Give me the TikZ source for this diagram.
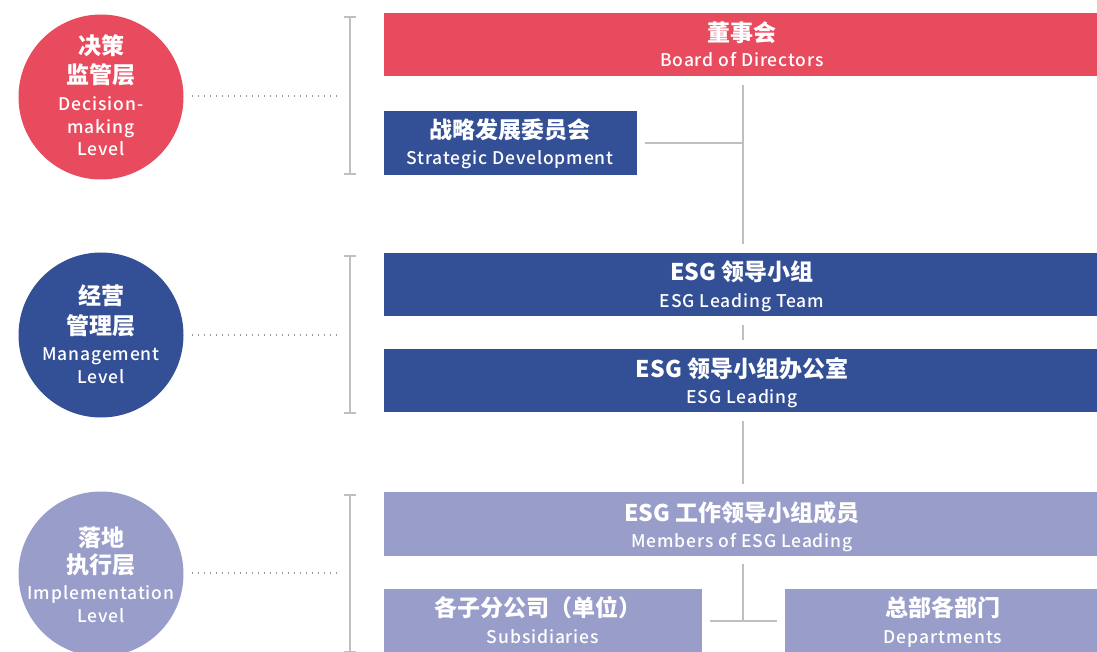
\documentclass[tikz,border=0pt]{standalone}
\usepackage{fontspec}
\setmainfont{Noto Sans CJK SC}
\newfontfamily\enfont{Noto Sans CJK SC Medium}[LetterSpace=5]
\usetikzlibrary{calc}
\definecolor{cred}{HTML}{E84B5E}
\definecolor{cblue}{HTML}{334F95}
\definecolor{clav}{HTML}{999DC9}
\definecolor{cline}{HTML}{BFBFBF}
\definecolor{cdot}{HTML}{999999}
\begin{document}
\begin{tikzpicture}[x=1pt,y=-1pt,
  box/.style={draw=none,inner sep=0pt,outer sep=0pt,anchor=north west},
  lvl/.style={circle,draw=none,inner sep=0pt,minimum size=165pt},
  cn/.style={anchor=base,text=white,inner sep=0pt,font=\fontsize{23}{23}\selectfont\bfseries},
  en/.style={anchor=base,text=white,inner sep=0pt,font=\enfont\fontsize{17.5}{17.5}\selectfont},
  conn/.style={draw=cline,line width=2pt},
  dots/.style={draw=cdot,line width=1.3pt,dash pattern=on 1.3pt off 4.7pt},
  brk/.style={draw=cline,line width=2.2pt}]
\useasboundingbox (0,0) rectangle (1097,652);

% level circles
\node[lvl,fill=cred]  (c1) at (101,97)  {};
\node[lvl,fill=cblue] (c2) at (101,335) {};
\node[lvl,fill=clav]  (c3) at (101,574) {};

\node[cn] (c1a) at (101,55)  {决策};
\node[cn] (c1b) at (101,84)  {监管层};
\node[en] (c1c) at (101,111) {Decision-};
\node[en] (c1d) at (101,134) {making};
\node[en] (c1e) at (101,156) {Level};

\node[cn] (c2a) at (101,305) {经营};
\node[cn] (c2b) at (101,334) {管理层};
\node[en] (c2c) at (101,360) {Management};
\node[en] (c2d) at (101,383) {Level};

\node[cn] (c3a) at (101,546) {落地};
\node[cn] (c3b) at (101,573) {执行层};
\node[en] (c3c) at (101,599) {Implementation};
\node[en] (c3d) at (101,622) {Level};

% dotted leaders and brackets
\coordinate (d1) at (338,96);
\coordinate (d2) at (338,335);
\coordinate (d3) at (338,573);
\draw[dots] (192,96) -- (d1);
\draw[dots] (192,335) -- (d2);
\draw[dots] (192,573) -- (d3);

\coordinate (b1t) at (350,17);  \coordinate (b1b) at (350,174);
\coordinate (b2t) at (350,256); \coordinate (b2b) at (350,413);
\coordinate (b3t) at (350,495); \coordinate (b3b) at (350,652);
\foreach \t/\b in {b1t/b1b,b2t/b2b,b3t/b3b}{
  \draw[brk] (\t) -- (\b);
  \draw[brk] ([xshift=-6pt]\t) -- ([xshift=6pt]\t);
  \draw[brk] ([xshift=-6pt]\b) -- ([xshift=6pt]\b);
}

% boxes
\node[box,fill=cred,minimum width=713pt,minimum height=63pt] (board) at (384,13) {};
\node[box,fill=cblue,minimum width=253pt,minimum height=64pt] (strat) at (384,111) {};
\node[box,fill=cblue,minimum width=713pt,minimum height=63pt] (esg1) at (384,253) {};
\node[box,fill=cblue,minimum width=713pt,minimum height=63pt] (esg2) at (384,349) {};
\node[box,fill=clav,minimum width=713pt,minimum height=64pt] (mem) at (384,492) {};
\node[box,fill=clav,minimum width=318pt,minimum height=70pt] (sub) at (384,589) {};
\node[box,fill=clav,minimum width=312pt,minimum height=70pt] (dep) at (785,589) {};

% box texts
\node[cn] (t1a) at (742,42)  {董事会};
\node[en] (t1b) at (742,67)  {Board of Directors};
\node[cn] (t2a) at (510,139) {战略发展委员会};
\node[en] (t2b) at (510,165) {Strategic Development};
\node[cn] (t3a) at (742,280) {ESG 领导小组};
\node[en] (t3b) at (742,307) {ESG Leading Team};
\node[cn] (t4a) at (742,377) {ESG 领导小组办公室};
\node[en] (t4b) at (742,403) {ESG Leading};
\node[cn] (t5a) at (742,521) {ESG 工作领导小组成员};
\node[en] (t5b) at (742,547) {Members of ESG Leading};
\node[cn] (t6a) at (538,616) {各子分公司（单位）};
\node[en] (t6b) at (543,643) {Subsidiaries};
\node[cn] (t7a) at (943,616) {总部各部门};
\node[en] (t7b) at (943,643) {Departments};

% connectors
\coordinate (x) at (743,0);
\coordinate (j1) at (743,143);
\coordinate (j2) at (743,621);
\draw[conn] ([yshift=-9pt]board.south -| x) -- ([yshift=9pt]esg1.north -| x);
\draw[conn] ([xshift=8pt]strat.east) -- (j1);
\draw[conn] ([yshift=-9pt]esg1.south -| x) -- ([yshift=9pt]esg2.north -| x);
\draw[conn] ([yshift=-9pt]esg2.south -| x) -- ([yshift=8pt]mem.north -| x);
\draw[conn] ([yshift=-8pt]mem.south -| x) -- (j2);
\draw[conn] ([xshift=8pt]sub.east |- j2) -- ([xshift=-8pt]dep.west |- j2);
\end{tikzpicture}
\end{document}
